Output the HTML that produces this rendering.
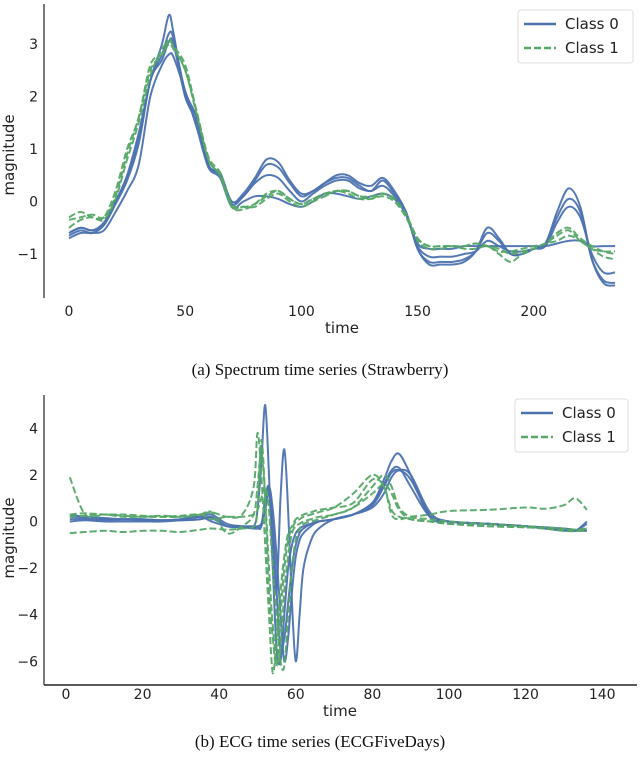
<!DOCTYPE html>
<html><head><meta charset="utf-8"><style>
html,body{margin:0;padding:0;background:#fff;width:640px;height:767px;overflow:hidden}
svg{display:block}
text{font-family:"DejaVu Sans","Liberation Sans",sans-serif;fill:#222}
.cap{font-family:"Liberation Serif",serif;font-size:17px;fill:#111}
</style></head><body>
<svg id="s" width="640" height="767" viewBox="0 0 640 767">
<text class="cap" x="320" y="375" text-anchor="middle">(a) Spectrum time series (Strawberry)</text>
<text class="cap" x="320" y="747" text-anchor="middle">(b) ECG time series (ECGFiveDays)</text>
</svg>
<script>
// ---- Chart A data (Strawberry) ----
const timesA = [0,5,10,15,20,25,30,35,40,43,45,50,55,60,65,70,75,80,85,90,95,100,105,110,115,120,125,130,135,140,145,150,155,160,165,170,175,180,185,190,195,200,205,210,215,220,225,230,235];
const a0s1 = [-0.6,-0.5,-0.55,-0.4,0.0,0.5,1.3,2.3,3.0,3.55,3.2,2.0,1.6,0.7,0.55,0.0,0.15,0.45,0.8,0.75,0.4,0.15,0.2,0.35,0.5,0.5,0.35,0.3,0.45,0.2,-0.2,-0.9,-1.2,-1.2,-1.2,-1.15,-0.95,-0.5,-0.7,-1.0,-1.0,-0.9,-0.8,-0.2,0.25,-0.1,-1.1,-1.55,-1.6];
const a0s2 = [-0.7,-0.6,-0.6,-0.55,-0.2,0.2,0.7,2.0,2.6,2.8,2.75,2.1,1.4,0.65,0.45,-0.1,0.0,0.1,0.1,0.05,-0.05,-0.1,0.0,0.15,0.15,0.1,0.05,0.1,0.15,0.05,-0.25,-0.8,-0.9,-0.9,-0.9,-0.85,-0.85,-0.85,-0.85,-0.85,-0.85,-0.85,-0.85,-0.8,-0.75,-0.75,-0.85,-0.85,-0.85];
const a0s3 = [-0.65,-0.55,-0.6,-0.45,-0.05,0.4,1.1,2.3,2.7,3.05,3.0,2.0,1.5,0.7,0.5,-0.05,0.1,0.35,0.5,0.45,0.2,0.0,0.15,0.3,0.4,0.4,0.25,0.2,0.3,0.1,-0.25,-0.85,-1.05,-1.05,-1.05,-1.0,-0.95,-0.75,-0.85,-0.95,-0.95,-0.9,-0.85,-0.4,-0.1,-0.3,-1.0,-1.35,-1.35];
const a0s4 = [-0.6,-0.5,-0.55,-0.45,0.0,0.45,1.2,2.3,2.8,3.2,3.1,2.1,1.6,0.7,0.5,0.0,0.1,0.4,0.7,0.65,0.35,0.1,0.2,0.35,0.45,0.45,0.3,0.2,0.4,0.15,-0.2,-0.9,-1.15,-1.15,-1.15,-1.1,-0.95,-0.6,-0.75,-1.0,-1.0,-0.9,-0.8,-0.3,0.05,-0.2,-1.1,-1.5,-1.55];
const a1s1 = [-0.35,-0.3,-0.25,-0.3,0.1,0.9,1.6,2.5,2.8,3.1,2.95,2.6,1.7,0.85,0.55,-0.05,-0.1,-0.05,0.1,0.2,0.05,-0.05,0.05,0.1,0.2,0.2,0.1,0.1,0.15,0.05,-0.25,-0.7,-0.85,-0.85,-0.85,-0.85,-0.8,-0.85,-0.95,-0.95,-0.9,-0.85,-0.8,-0.6,-0.5,-0.7,-0.85,-0.95,-1.0];
const a1s2 = [-0.5,-0.35,-0.3,-0.35,0.05,0.8,1.5,2.4,2.9,3.05,2.95,2.5,1.7,0.8,0.5,-0.1,-0.1,-0.1,0.05,0.15,0.0,-0.1,0.0,0.1,0.2,0.15,0.05,0.05,0.1,0.0,-0.3,-0.75,-0.9,-0.9,-0.85,-0.9,-0.9,-0.85,-1.0,-1.15,-1.0,-0.9,-0.8,-0.65,-0.55,-0.75,-0.9,-1.05,-1.1];
const a1s3 = [-0.3,-0.2,-0.3,-0.3,0.2,1.0,1.6,2.6,2.8,3.0,2.9,2.5,1.65,0.8,0.5,-0.1,-0.15,-0.05,0.15,0.2,0.05,-0.05,0.05,0.15,0.2,0.2,0.1,0.05,0.15,0.05,-0.25,-0.7,-0.85,-0.85,-0.85,-0.85,-0.8,-0.85,-0.9,-1.0,-0.95,-0.9,-0.8,-0.75,-0.65,-0.75,-0.9,-0.95,-0.95];
const xTicksA = [0,50,100,150,200];
const yTicksA = [-1,0,1,2,3];

// ---- Chart B data (ECGFiveDays) ----
const timesB = [1,5,10,15,20,25,30,35,38,42,46,49,50,51,52,53,54,55,56,57,58,59,60,61,62,64,66,70,75,80,83,85,87,90,95,100,110,120,125,130,133,136];
const b0s1 = [0.2,0.15,0.1,0.1,0.1,0.05,0.05,0.1,0.2,-0.2,-0.2,-0.2,0.5,2.5,5.0,2.0,-2.0,-5.5,-6.0,-4.0,-2.0,-1.0,-0.5,-0.3,-0.2,-0.1,0.0,0.1,0.3,0.8,1.8,2.6,2.9,2.0,0.2,0.0,-0.1,-0.2,-0.3,-0.35,-0.4,0.0];
const b0s2 = [0.1,0.1,0.05,0.1,0.05,0.05,0.1,0.2,0.3,-0.1,-0.2,-0.2,-0.2,-0.1,0.5,1.5,0.5,-1.5,-4.0,-6.0,-5.0,-3.0,-1.5,-0.8,-0.5,-0.2,0.0,0.1,0.3,0.7,1.5,2.1,2.2,1.8,0.3,0.0,-0.1,-0.2,-0.3,-0.4,-0.4,-0.4];
const b0s3 = [0.3,0.2,0.15,0.1,0.1,0.05,0.1,0.2,0.0,-0.2,-0.25,-0.25,-0.25,-0.2,0.5,1.2,-1.0,-3.0,1.0,3.1,0.5,-3.5,-6.0,-4.0,-2.0,-0.8,-0.3,0.1,0.3,0.6,1.2,1.9,2.2,2.0,0.4,0.0,-0.1,-0.2,-0.25,-0.3,-0.35,-0.4];
const b0s4 = [0.0,0.05,0.0,0.0,0.0,0.0,0.05,0.1,0.15,-0.2,-0.25,-0.3,-0.3,-0.2,1.0,1.5,0.0,-3.0,-5.5,-5.0,-3.5,-2.0,-1.0,-0.5,-0.3,-0.1,0.0,0.1,0.3,0.8,1.6,2.2,2.3,1.5,0.2,0.0,-0.1,-0.2,-0.3,-0.35,-0.4,-0.1];
const b1s1 = [1.9,0.3,0.3,0.25,0.2,0.25,0.2,0.3,0.4,0.2,0.3,1.5,3.8,2.0,-1.0,-4.0,-6.5,-5.0,-3.0,-1.5,-0.5,-0.2,0.1,0.2,0.3,0.4,0.5,0.6,0.8,1.8,1.5,0.3,0.1,0.2,0.3,0.45,0.5,0.6,0.55,0.7,1.0,0.5];
const b1s2 = [-0.5,-0.45,-0.4,-0.45,-0.4,-0.4,-0.45,-0.35,-0.3,-0.35,-0.3,-0.2,0.5,3.5,1.0,-3.0,-5.0,-6.2,-4.0,-2.0,-0.8,-0.3,0.0,0.1,0.2,0.3,0.4,0.6,1.2,2.0,1.5,0.5,0.2,0.1,0.0,-0.1,-0.2,-0.25,-0.3,-0.35,-0.4,-0.4];
const b1s3 = [0.3,0.35,0.3,0.3,0.25,0.2,0.2,0.3,0.4,-0.5,-0.2,0.3,1.5,3.0,1.0,-2.0,-4.5,-6.0,-5.5,-3.0,-1.5,-0.5,-0.2,-0.1,0.0,0.1,0.2,0.3,0.6,1.2,1.6,1.2,0.5,0.1,0.0,-0.1,-0.2,-0.25,-0.3,-0.4,-0.4,-0.3];
const b1s4 = [0.2,0.25,0.3,0.2,0.2,0.2,0.25,0.3,0.1,0.2,0.2,0.3,0.5,1.0,1.5,0.5,-2.0,-4.0,-6.0,-6.2,-4.0,-2.0,-0.8,-0.3,-0.1,0.0,0.1,0.3,0.6,1.5,2.0,1.5,0.6,0.2,0.1,0.0,-0.1,-0.2,-0.25,-0.3,-0.35,-0.3];
const xTicksB = [0,20,40,60,80,100,120,140];
const yTicksB = [-6,-4,-2,0,2,4];

const NS = "http://www.w3.org/2000/svg";
const svg = document.getElementById('s');
const BLUE = "#4c72b0", GREEN = "#55a868";
function mk(tag, attrs, parent){
  const e = document.createElementNS(NS, tag);
  for (const k in attrs) e.setAttribute(k, attrs[k]);
  (parent||svg).appendChild(e);
  return e;
}
function smoothPath(pts){
  let d = "M" + pts[0][0].toFixed(1) + "," + pts[0][1].toFixed(1);
  for (let i=0;i<pts.length-1;i++){
    const p0=pts[Math.max(0,i-1)], p1=pts[i], p2=pts[i+1], p3=pts[Math.min(pts.length-1,i+2)];
    const c1x=p1[0]+(p2[0]-p0[0])/6, c1y=p1[1]+(p2[1]-p0[1])/6;
    const c2x=p2[0]-(p3[0]-p1[0])/6, c2y=p2[1]-(p3[1]-p1[1])/6;
    d += " C"+c1x.toFixed(1)+","+c1y.toFixed(1)+" "+c2x.toFixed(1)+","+c2y.toFixed(1)+" "+p2[0].toFixed(1)+","+p2[1].toFixed(1);
  }
  return d;
}
function drawChart(cfg){
  const g = mk('g', {});
  
  
  const sx = v => cfg.x0 + v*cfg.kx;
  const sy = v => cfg.y0 - v*cfg.ky;
  cfg.series.forEach((s, si) => {
    const n = Math.min(s.vals.length, cfg.times.length);
    const pts = [];
    for (let i=0;i<n;i++) pts.push([sx(cfg.times[i]), sy(s.vals[i])]);
    const p = mk('path', {d: smoothPath(pts), fill:'none', stroke: s.cls===0?BLUE:GREEN, 'stroke-width':2,
      'stroke-dasharray': s.cls===0?'none':'7,3', 'stroke-linejoin':'round', opacity:0.95}, g);
    
    
  });
  const ys = mk('line', {x1:cfg.spineX, x2:cfg.spineX, y1:cfg.spineTop, y2:cfg.spineBot, stroke:'#222', 'stroke-width':1.2}, g);
  
  
  if (cfg.xSpine){
    const xs = mk('line', {x1:cfg.spineX, x2:637, y1:cfg.spineBot, y2:cfg.spineBot, stroke:'#222', 'stroke-width':1.6}, g);
    
    
  }
  cfg.yTicks.forEach(v => {
    const t = mk('text', {x:cfg.spineX-6, y:sy(v)+5, 'text-anchor':'end', 'font-size':14}, g);
    t.textContent = v<0 ? '\u2212'+Math.abs(v) : String(v);
    
    
  });
  cfg.xTicks.forEach(v => {
    const t = mk('text', {x:sx(v), y:cfg.xLabelY, 'text-anchor':'middle', 'font-size':14}, g);
    t.textContent = String(v);
    
    
  });
  const xt = mk('text', {x:cfg.xTitleX, y:cfg.xTitleY, 'text-anchor':'middle', 'font-size':15}, g);
  xt.textContent = 'time';
  
  
  const yt = mk('text', {x:0, y:0, 'text-anchor':'middle', 'font-size':15, transform:'translate(14,'+cfg.yTitleY+') rotate(-90)'}, g);
  yt.textContent = 'magnitude';
  
  
  const L = cfg.legend;
  const lg = mk('g', {}, g);
  
  
  mk('rect', {x:L.x, y:L.y, width:L.w, height:L.h, rx:3, fill:'#fff', stroke:'#ddd', 'stroke-width':1}, lg);
  [[0,'Class 0'],[1,'Class 1']].forEach(([c,label], i) => {
    const yy = L.y + 14 + i*24;
    const ln = mk('line', {x1:L.x+6, x2:L.x+38, y1:yy, y2:yy, stroke:c===0?BLUE:GREEN, 'stroke-width':2.5, 'stroke-dasharray':c===0?'none':'7,3'}, lg);
    
    
    const t = mk('text', {x:L.x+47, y:yy+5, 'font-size':15}, lg);
    t.textContent = label;
    
    
  });
}
drawChart({name:'strawberry-chart', prefix:'a', times:timesA, x0:69, kx:2.324, y0:201.5, ky:52.5,
  spineX:44, spineTop:4, spineBot:298, xSpine:false, yTicks:yTicksA, xTicks:xTicksA, xLabelY:316,
  xTitleX:342, xTitleY:333, yTitleY:155, legend:{x:518,y:10,w:115,h:53},
  series:[{cls:0,vals:a0s1},{cls:0,vals:a0s2},{cls:0,vals:a0s3},{cls:0,vals:a0s4},{cls:1,vals:a1s1},{cls:1,vals:a1s2},{cls:1,vals:a1s3}]});
drawChart({name:'ecg-chart', prefix:'b', times:timesB, x0:66, kx:3.83, y0:521.5, ky:23.3,
  spineX:44, spineTop:395, spineBot:685, xSpine:true, yTicks:yTicksB, xTicks:xTicksB, xLabelY:699,
  xTitleX:340, xTitleY:716, yTitleY:538, legend:{x:515,y:399,w:113,h:53},
  series:[{cls:0,vals:b0s1},{cls:0,vals:b0s2},{cls:0,vals:b0s3},{cls:0,vals:b0s4},{cls:1,vals:b1s1},{cls:1,vals:b1s2},{cls:1,vals:b1s3},{cls:1,vals:b1s4}]});
</script>
</body></html>
